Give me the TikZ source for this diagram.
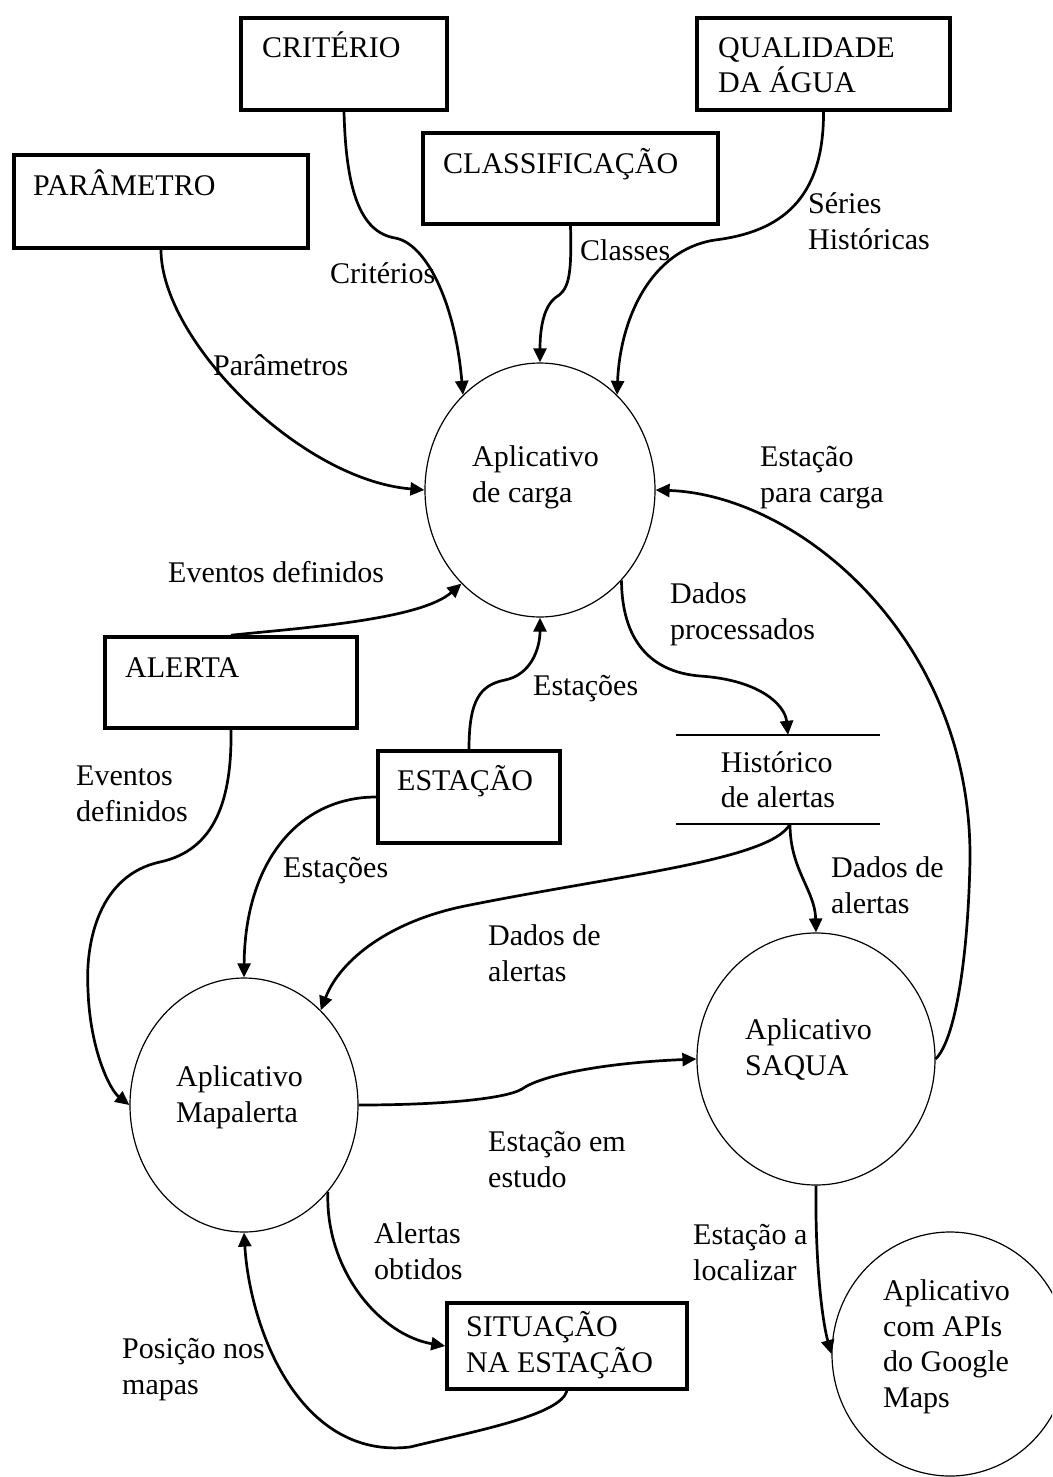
\documentclass[tikz,border=0pt]{standalone}
\usepackage{fontspec}
\setmainfont{Liberation Serif}
\usetikzlibrary{arrows.meta,shapes.geometric,calc}

\begin{document}
\begin{tikzpicture}[x=1pt,y=-1pt,
  txt/.style={anchor=base west, inner sep=0pt, align=left, font=\fontsize{30}{35.5}\selectfont},
  entity/.style={draw, line width=3.6pt, rectangle, inner sep=0pt},
  process/.style={draw, line width=1.2pt, ellipse, inner sep=0pt},
  store/.style={rectangle, inner sep=0pt, align=left, font=\fontsize{30}{35.5}\selectfont},
  flow/.style={line width=2.7pt, -{Triangle[length=14pt,width=13pt]}},
  storeline/.style={line width=1.8pt}]

\useasboundingbox (0,0) rectangle (1052,1477);
\clip (0,0) rectangle (1052,1477);

% external entities
\node[entity, minimum width=206pt, minimum height=92pt] (crit)  at (344,64)    {};
\node[entity, minimum width=253pt, minimum height=92pt] (qual)  at (823.5,64)  {};
\node[entity, minimum width=294pt, minimum height=93pt] (param) at (161,201.5) {};
\node[entity, minimum width=295pt, minimum height=91pt] (class) at (570.5,178.5) {};
\node[entity, minimum width=252pt, minimum height=91pt] (alerta) at (231,682.5) {};
\node[entity, minimum width=182pt, minimum height=92pt] (est)   at (469,797)   {};
\node[entity, minimum width=240pt, minimum height=86pt] (sit)   at (567,1346)  {};

% entity names (anchored at the baseline of the last line)
\node[txt] (crit-t)   at (262,58)   {CRITÉRIO};
\node[txt] (qual-t)   at (718,93)   {QUALIDADE\\DA ÁGUA};
\node[txt] (param-t)  at (33,195)   {PARÂMETRO};
\node[txt] (class-t)  at (443,173)  {CLASSIFICAÇÃO};
\node[txt] (alerta-t) at (125,677)  {ALERTA};
\node[txt] (est-t)    at (397,790)  {ESTAÇÃO};
\node[txt] (sit-t)    at (466,1372) {SITUAÇÃO\\NA ESTAÇÃO};

% processes
\node[process, minimum width=230pt, minimum height=254pt] (carga)  at (540,490)  {};
\node[process, minimum width=228pt, minimum height=254pt] (mapa)   at (244,1105) {};
\node[process, minimum width=238pt, minimum height=252pt] (saqua)  at (816,1059) {};
\node[process, minimum width=236pt, minimum height=244pt] (google) at (950,1354) {};

\node[txt] (carga-t)  at (472,502)  {Aplicativo\\de carga};
\node[txt] (mapa-t)   at (176,1122) {Aplicativo\\Mapalerta};
\node[txt] (saqua-t)  at (745,1075) {Aplicativo\\SAQUA};
\node[txt] (google-t) at (883,1407) {Aplicativo\\com APIs\\do Google\\Maps};

% data store
\node[store, minimum width=204pt, minimum height=89pt] (hist) at (778,779.5) {Histórico\\de alertas};
\draw[storeline] (hist.north west) -- (hist.north east);
\draw[storeline] (hist.south west) -- (hist.south east);

% data flows
\draw[flow] (crit.south) .. controls (346,190) and (360,232) .. (395,238)
            .. controls (425,243) and (455,300) .. (carga.129);
\draw[flow] (class.south) .. controls (572,280) and (568,290) .. (555,298)
            .. controls (543,308) and (540,330) .. (carga.north);
\draw[flow] (qual.south) .. controls (824,200) and (780,232) .. (715,240)
            .. controls (650,250) and (620,320) .. (carga.51);
\draw[flow] (param.south) .. controls (161,340) and (300,480) .. (carga.west);
\draw[flow] (alerta.north) .. controls (300,628) and (420,620) .. (carga.230);
\draw[flow] (est.north) .. controls (469,700) and (480,685) .. (505,680)
            .. controls (530,675) and (540,650) .. (carga.south);
\draw[flow] (carga.-48) .. controls (622,640) and (650,672) .. (700,676)
            .. controls (760,680) and (785,705) .. ([xshift=10pt]hist.north);
\draw[flow] (saqua.east) .. controls (955,1040) and (968,960) .. (970,860)
            .. controls (972,640) and (800,495) .. (carga.east);
\draw[flow] (alerta.south) .. controls (232,800) and (215,850) .. (160,862)
            .. controls (100,875) and (85,940) .. (88,990)
            .. controls (90,1050) and (110,1090) .. (mapa.west);
\draw[flow] (est.west) .. controls (300,797) and (245,860) .. (mapa.north);
\draw[flow] ([xshift=12pt]hist.south) .. controls (770,860) and (620,875) .. (470,905)
            .. controls (390,920) and (340,960) .. (mapa.51);
\draw[flow] ([xshift=12pt]hist.south) .. controls (790,870) and (815,890) .. (saqua.north);
\draw[flow] (mapa.east) .. controls (440,1105) and (505,1099) .. (522,1089)
            .. controls (540,1076) and (600,1063) .. (saqua.west);
\draw[flow] (mapa.-46) .. controls (325,1270) and (380,1335) .. (sit.west);
\draw[flow] (sit.south) .. controls (560,1415) and (480,1430) .. (410,1447)
            .. controls (300,1460) and (250,1330) .. (mapa.south);
\draw[flow] (saqua.south) .. controls (815,1260) and (822,1320) .. (google.west);

% flow labels (anchored at the baseline of the last line)
\node[txt] (l-crit)   at (330,283)  {Critérios};
\node[txt] (l-class)  at (580,260)  {Classes};
\node[txt] (l-qual)   at (808,249)  {Séries\\Históricas};
\node[txt] (l-param)  at (213,375)  {Parâmetros};
\node[txt] (l-ev1)    at (168,582)  {Eventos definidos};
\node[txt] (l-carga)  at (760,502)  {Estação\\para carga};
\node[txt] (l-proc)   at (670,639)  {Dados\\processados};
\node[txt] (l-est1)   at (533,695)  {Estações};
\node[txt] (l-ev2)    at (76,821)   {Eventos\\definidos};
\node[txt] (l-est2)   at (283,877)  {Estações};
\node[txt] (l-dad1)   at (831,913)  {Dados de\\alertas};
\node[txt] (l-dad2)   at (488,981)  {Dados de\\alertas};
\node[txt] (l-estudo) at (488,1187) {Estação em\\estudo};
\node[txt] (l-obt)    at (374,1279) {Alertas\\obtidos};
\node[txt] (l-pos)    at (122,1394) {Posição nos\\mapas};
\node[txt] (l-loc)    at (693,1280) {Estação a\\localizar};

\end{tikzpicture}
\end{document}
